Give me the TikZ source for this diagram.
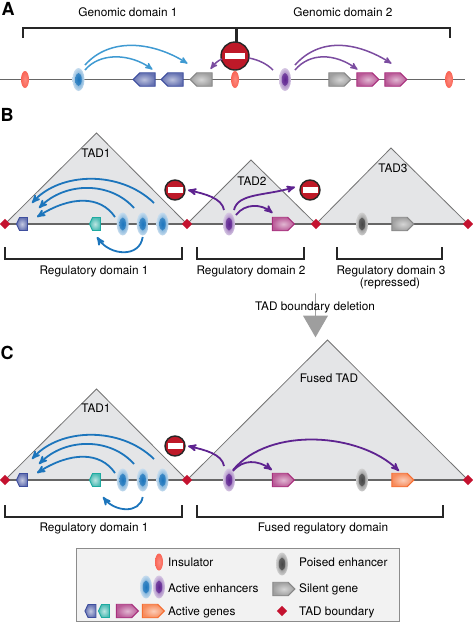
\documentclass[tikz,border=0pt]{standalone}
\usepackage{fontspec}
\setmainfont{TeX Gyre Heros}
\usetikzlibrary{arrows}
\usetikzlibrary{shapes}
\usetikzlibrary{shapes.arrows}
\usetikzlibrary{shapes.symbols}
\definecolor{enhblue}{RGB}{28,117,188}
\definecolor{enhpurple}{RGB}{94,35,144}
\definecolor{enhgrey}{RGB}{70,70,70}
\definecolor{arrlightblue}{RGB}{63,154,210}
\definecolor{arrlightpurple}{RGB}{123,76,160}
\definecolor{tadgrey}{RGB}{228,229,231}
\definecolor{tadred}{RGB}{196,18,47}
\definecolor{stopred}{RGB}{190,25,40}
\definecolor{insred}{RGB}{250,100,85}
\definecolor{genblue}{RGB}{62,78,158}
\definecolor{genteal}{RGB}{30,170,160}
\definecolor{genpink}{RGB}{168,48,125}
\definecolor{gengrey}{RGB}{135,135,135}
\definecolor{genorange}{RGB}{245,110,50}
\tikzset{tad/.style={draw=black!55,fill=tadgrey,line width=0.8pt}}
\tikzset{chrom/.style={draw=black!60,line width=1.2pt}}
\tikzset{bracket/.style={draw=black!85,line width=1.3pt}}
\tikzset{txt/.style={inner sep=0pt,text height=8.3pt,text depth=0pt,font=\fontsize{11.8}{12}\selectfont}}
\tikzset{panel/.style={inner sep=0pt,font=\fontsize{18}{18}\selectfont\bfseries}}
\tikzset{boundary/.style={diamond,fill=tadred,inner sep=0pt,minimum size=10.5}}
\tikzset{insulator/.style={ellipse,inner sep=0pt,minimum width=8,minimum height=17,shading=radial,inner color=insred!75,outer color=insred}}
\tikzset{enhhalo/.style={ellipse,inner sep=0pt,minimum width=12,minimum height=23,shading=radial,inner color=#1!80,outer color=#1!25}}
\tikzset{enhcore/.style={ellipse,inner sep=0pt,minimum width=6.5,minimum height=13,shading=radial,inner color=#1,outer color=#1!85}}
\tikzset{gener/.style={signal,signal to=east,signal pointer angle=90,xshift=-3.5pt,inner sep=0pt,minimum width=22,minimum height=13.5,line width=0.9pt,draw=#1,shading=radial,inner color=#1!35,outer color=#1!80}}
\tikzset{genel/.style={signal,signal to=west,signal pointer angle=90,xshift=3.5pt,inner sep=0pt,minimum width=22,minimum height=13.5,line width=0.9pt,draw=#1,shading=radial,inner color=#1!35,outer color=#1!80}}
\tikzset{genes/.style={signal,signal to=west,signal pointer angle=130,xshift=1pt,inner sep=0pt,minimum width=11,minimum height=13,line width=0.9pt,draw=#1,shading=radial,inner color=#1!30,outer color=#1!80}}
\tikzset{stopsign/.style={circle,inner sep=0pt,minimum size=#1,draw=black!85,line width=1.4pt,fill=stopred}}
\tikzset{stopbar/.style={rectangle,inner sep=0pt,fill=white,minimum height=6.5,minimum width=#1}}
\tikzset{line/.style={>=stealth',line width=1.8pt,->}}
\begin{document}
\begin{tikzpicture}[x=1pt,y=-1pt]
  \useasboundingbox (0,0) rectangle (473,622);
  % panel A
  \node[panel] (lettera) at (8,9) {A};
  \node[txt] (doma1) at (128,12.5) {Genomic domain 1};
  \node[txt] (doma2) at (343,12.5) {Genomic domain 2};
  \coordinate (bra1l) at (23,38);
  \coordinate (bra1r) at (235.5,44);
  \coordinate (bra2l) at (237,44);
  \coordinate (bra2r) at (450,38);
  \draw[bracket] (bra1l) |- (235.5,28) -- (bra1r);
  \draw[bracket] (bra2l) |- (450,28) -- (bra2r);
  \coordinate (axal) at (0,79.5);
  \coordinate (axar) at (465,79.5);
  \draw[chrom] (axal) -- (axar);
  \node[insulator] (insa1) at (25,79.5) {};
  \node[insulator] (insa2) at (235,79.5) {};
  \node[insulator] (insa3) at (449,79.5) {};
  \node[enhhalo=enhblue] (ena) at (78.5,79.5) {};
  \node[enhcore=enhblue] (enac) at (ena) {};
  \node[enhhalo=enhpurple] (enb) at (285,79.5) {};
  \node[enhcore=enhpurple] (enbc) at (enb) {};
  \node[genel=genblue] (gna1) at (144,79.5) {};
  \node[genel=genblue] (gna2) at (172,79.5) {};
  \node[genel=gengrey] (gna3) at (201,79.5) {};
  \node[gener=gengrey] (gna4) at (340,79.5) {};
  \node[gener=genpink] (gna5) at (368,79.5) {};
  \node[gener=genpink] (gna6) at (396,79.5) {};
  \node[stopsign=28] (stopa) at (235,56) {};
  \node[stopbar=20] (stopabar) at (stopa) {};
  \draw[line,line width=1.5pt,arrlightblue] ([shift={(6.5,-14.5)}]ena.center) .. controls +(25,-28) and +(-35,-22) .. ([shift={(12,-16)}]gna2.center);
  \draw[line,line width=1.5pt,arrlightblue] ([shift={(6.5,-9.5)}]ena.center) .. controls +(15,-18) and +(-22,-16) .. ([shift={(5,-10)}]gna1.center);
  \draw[line,line width=1.5pt,arrlightpurple] ([shift={(10,-14.5)}]enb.center) .. controls +(25,-28) and +(-35,-22) .. ([shift={(-1,-16)}]gna6.center);
  \draw[line,line width=1.5pt,arrlightpurple] ([shift={(10,-9.5)}]enb.center) .. controls +(15,-18) and +(-22,-16) .. ([shift={(-7,-10)}]gna5.center);
  \draw[line,line width=1.5pt,arrlightpurple] ([shift={(-13,3)}]stopa.center) .. controls +(-5,2) and +(4,-5) .. ([shift={(6,-10.5)}]gna3.center);
  \draw[line,line width=1.5pt,arrlightpurple,-] ([shift={(14,2)}]stopa.center) .. controls +(10,2) and +(-6,-6) .. ([shift={(-12,-9.5)}]enb.center);
  % panel B
  \node[panel] (letterb) at (7,115) {B};
  \coordinate (tb1) at (5,224);
  \coordinate (tb2) at (187,224);
  \coordinate (tb3) at (316,224);
  \coordinate (tb4) at (468,224);
  \coordinate (apexb1) at (96.5,133);
  \coordinate (apexb2) at (251,160);
  \coordinate (apexb3) at (391,148);
  \draw[tad] (tb1) -- (apexb1) -- (tb2) -- cycle;
  \draw[tad] (tb2) -- (apexb2) -- (tb3) -- cycle;
  \draw[tad] (tb3) -- (apexb3) -- (tb4) -- cycle;
  \node[txt] (tadb1) at (96,153) {TAD1};
  \node[txt] (tadb2) at (252,181) {TAD2};
  \node[txt] (tadb3) at (393,168) {TAD3};
  \draw[chrom] (tb1) -- (tb4);
  \node[boundary] (bdb1) at (tb1) {};
  \node[boundary] (bdb2) at (tb2) {};
  \node[boundary] (bdb3) at (tb3) {};
  \node[boundary] (bdb4) at (tb4) {};
  \node[genes=genblue] (gnb1) at (22.5,224) {};
  \node[genes=genteal] (gnb2) at (95.5,224) {};
  \node[gener=genpink] (gnb3) at (283.5,224) {};
  \node[gener=gengrey] (gnb4) at (403,224) {};
  \node[enhhalo=enhblue] (enb1) at (122.7,224) {};
  \node[enhcore=enhblue] (enb1c) at (enb1) {};
  \node[enhhalo=enhblue] (enb2) at (142.7,224) {};
  \node[enhcore=enhblue] (enb2c) at (enb2) {};
  \node[enhhalo=enhblue] (enb3) at (162.5,224) {};
  \node[enhcore=enhblue] (enb3c) at (enb3) {};
  \node[enhhalo=enhpurple] (enb4) at (229,224) {};
  \node[enhcore=enhpurple] (enb4c) at (enb4) {};
  \node[enhhalo=enhgrey] (enb5) at (362,224) {};
  \node[enhcore=enhgrey] (enb5c) at (enb5) {};
  \node[stopsign=20] (stopb1) at (175,190) {};
  \node[stopbar=15] (stopb1bar) at (stopb1) {};
  \node[stopsign=20] (stopb2) at (310,190) {};
  \node[stopbar=15] (stopb2bar) at (stopb2) {};
  \draw[line,enhblue] ([shift={(-8.5,-21)}]enb3.center) .. controls +(-34,-33) and +(28,-31) .. ([shift={(8.5,-21)}]gnb1.center);
  \draw[line,enhblue] ([shift={(-8.7,-16)}]enb2.center) .. controls +(-24,-27) and +(26,-26) .. ([shift={(15.5,-16)}]gnb1.center);
  \draw[line,enhblue] ([shift={(-7.7,-7)}]enb1.center) .. controls +(-15,-22) and +(33,-21) .. ([shift={(13.5,-7)}]gnb1.center);
  \draw[line,enhblue] ([shift={(0,13)}]enb2.center) .. controls +(-3,21) and +(13,19) .. ([shift={(0.5,13)}]gnb2.center);
  \draw[line,enhpurple] ([shift={(-5,-14)}]enb4.center) .. controls +(-2,-12) and +(17,4) .. ([shift={(13,0)}]stopb1.center);
  \draw[line,enhpurple] ([shift={(5,-14)}]enb4.center) .. controls +(4,-17) and +(-30,9) .. ([shift={(-15,-3)}]stopb2.center);
  \draw[line,enhpurple] ([shift={(7,-9)}]enb4.center) .. controls +(9,-12) and +(-11,-9) .. ([shift={(-7.5,-11)}]gnb3.center);
  \coordinate (bb1l) at (5,247);
  \coordinate (bb1r) at (182,247);
  \coordinate (bb2l) at (197,247);
  \coordinate (bb2r) at (304,247);
  \coordinate (bb3l) at (337,247);
  \coordinate (bb3r) at (442,247);
  \draw[bracket] (bb1l) -- ++(0,12) -| (bb1r);
  \draw[bracket] (bb2l) -- ++(0,12) -| (bb2r);
  \draw[bracket] (bb3l) -- ++(0,12) -| (bb3r);
  \node[txt] (domb1) at (94,270) {Regulatory domain 1};
  \node[txt] (domb2) at (251,270) {Regulatory domain 2};
  \node[txt] (domb3) at (391,270) {Regulatory domain 3};
  \node[txt] (domb3r) at (390,282) {(repressed)};
  % deletion step
  \node[single arrow,fill=black!38,inner sep=0pt,shape border rotate=270,minimum height=44,minimum width=25,single arrow head extend=6,single arrow tip angle=60] (delarrow) at (315.5,315) {};
  \node[txt] (deltext) at (315,306) {TAD boundary deletion};
  % panel C
  \node[panel] (letterc) at (7,353) {C};
  \coordinate (tc1) at (5,480);
  \coordinate (tc2) at (187,480);
  \coordinate (tc3) at (468,480);
  \coordinate (apexc1) at (96.5,389);
  \coordinate (apexc2) at (327.5,340);
  \draw[tad] (tc1) -- (apexc1) -- (tc2) -- cycle;
  \draw[tad] (tc2) -- (apexc2) -- (tc3) -- cycle;
  \node[txt] (tadc1) at (96,408) {TAD1};
  \node[txt] (tadc2) at (329,378) {Fused TAD};
  \draw[chrom] (tc1) -- (tc3);
  \node[boundary] (bdc1) at (tc1) {};
  \node[boundary] (bdc2) at (tc2) {};
  \node[boundary] (bdc3) at (tc3) {};
  \node[genes=genblue] (gnc1) at (22.5,480) {};
  \node[genes=genteal] (gnc2) at (95.5,480) {};
  \node[gener=genpink] (gnc3) at (283.5,480) {};
  \node[gener=genorange] (gnc4) at (403,480) {};
  \node[enhhalo=enhblue] (enc1) at (122.7,480) {};
  \node[enhcore=enhblue] (enc1c) at (enc1) {};
  \node[enhhalo=enhblue] (enc2) at (142.7,480) {};
  \node[enhcore=enhblue] (enc2c) at (enc2) {};
  \node[enhhalo=enhblue] (enc3) at (162.5,480) {};
  \node[enhcore=enhblue] (enc3c) at (enc3) {};
  \node[enhhalo=enhpurple] (enc4) at (229,480) {};
  \node[enhcore=enhpurple] (enc4c) at (enc4) {};
  \node[enhhalo=enhgrey] (enc5) at (362,480) {};
  \node[enhcore=enhgrey] (enc5c) at (enc5) {};
  \node[stopsign=20] (stopc) at (175,446) {};
  \node[stopbar=15] (stopcbar) at (stopc) {};
  \draw[line,enhblue] ([shift={(-8.5,-21)}]enc3.center) .. controls +(-34,-33) and +(28,-31) .. ([shift={(8.5,-21)}]gnc1.center);
  \draw[line,enhblue] ([shift={(-8.7,-16)}]enc2.center) .. controls +(-24,-27) and +(26,-26) .. ([shift={(15.5,-16)}]gnc1.center);
  \draw[line,enhblue] ([shift={(-7.7,-7)}]enc1.center) .. controls +(-15,-22) and +(33,-21) .. ([shift={(13.5,-7)}]gnc1.center);
  \draw[line,enhblue] ([shift={(0,17)}]enc2.center) .. controls +(-3,17) and +(12,15) .. ([shift={(6.5,17)}]gnc2.center);
  \draw[line,enhpurple] ([shift={(-5,-14)}]enc4.center) .. controls +(-2,-12) and +(17,4) .. ([shift={(13,0)}]stopc.center);
  \draw[line,enhpurple] ([shift={(4,-10)}]enc4.center) .. controls +(37,-44) and +(-39,-38) .. ([shift={(-0.5,-9)}]gnc4.center);
  \draw[line,enhpurple] ([shift={(4,-9)}]enc4.center) .. controls +(10,-12) and +(-14,-10) .. ([shift={(-8,-10)}]gnc3.center);
  \coordinate (bc1l) at (5,505);
  \coordinate (bc1r) at (182,505);
  \coordinate (bc2l) at (197,505);
  \coordinate (bc2r) at (443,505);
  \draw[bracket] (bc1l) -- ++(0,12) -| (bc1r);
  \draw[bracket] (bc2l) -- ++(0,12) -| (bc2r);
  \node[txt] (domc1) at (94,527) {Regulatory domain 1};
  \node[txt] (domc2) at (323,527) {Fused regulatory domain};
  % legend
  \node[rectangle,draw=black!45,fill=black!5,line width=0.8pt,minimum width=323,minimum height=73,inner sep=0pt] (legend) at (237.5,585) {};
  \node[insulator] (leg1) at (159,562) {};
  \node[txt,anchor=west] (leg1t) at (168,562) {Insulator};
  \node[enhhalo=enhblue] (leg2) at (146,587) {};
  \node[enhcore=enhblue] (leg2c) at (leg2) {};
  \node[enhhalo=enhpurple] (leg3) at (159,587) {};
  \node[enhcore=enhpurple] (leg3c) at (leg3) {};
  \node[txt,anchor=west] (leg3t) at (168,588) {Active enhancers};
  \node[genes=genblue] (leg4) at (91,611) {};
  \node[genes=genteal] (leg5) at (104.5,611) {};
  \node[gener=genpink] (leg6) at (127.5,611) {};
  \node[gener=genorange] (leg7) at (153.5,611) {};
  \node[txt,anchor=west] (leg7t) at (168,611) {Active genes};
  \node[enhhalo=enhgrey] (leg8) at (282,564) {};
  \node[enhcore=enhgrey] (leg8c) at (leg8) {};
  \node[txt,anchor=west] (leg8t) at (299,562) {Poised enhancer};
  \node[gener=gengrey] (leg9) at (284,589) {};
  \node[txt,anchor=west] (leg9t) at (299,588) {Silent gene};
  \node[boundary] (leg10) at (282,611) {};
  \node[txt,anchor=west] (leg10t) at (299,611) {TAD boundary};
\end{tikzpicture}
\end{document}
